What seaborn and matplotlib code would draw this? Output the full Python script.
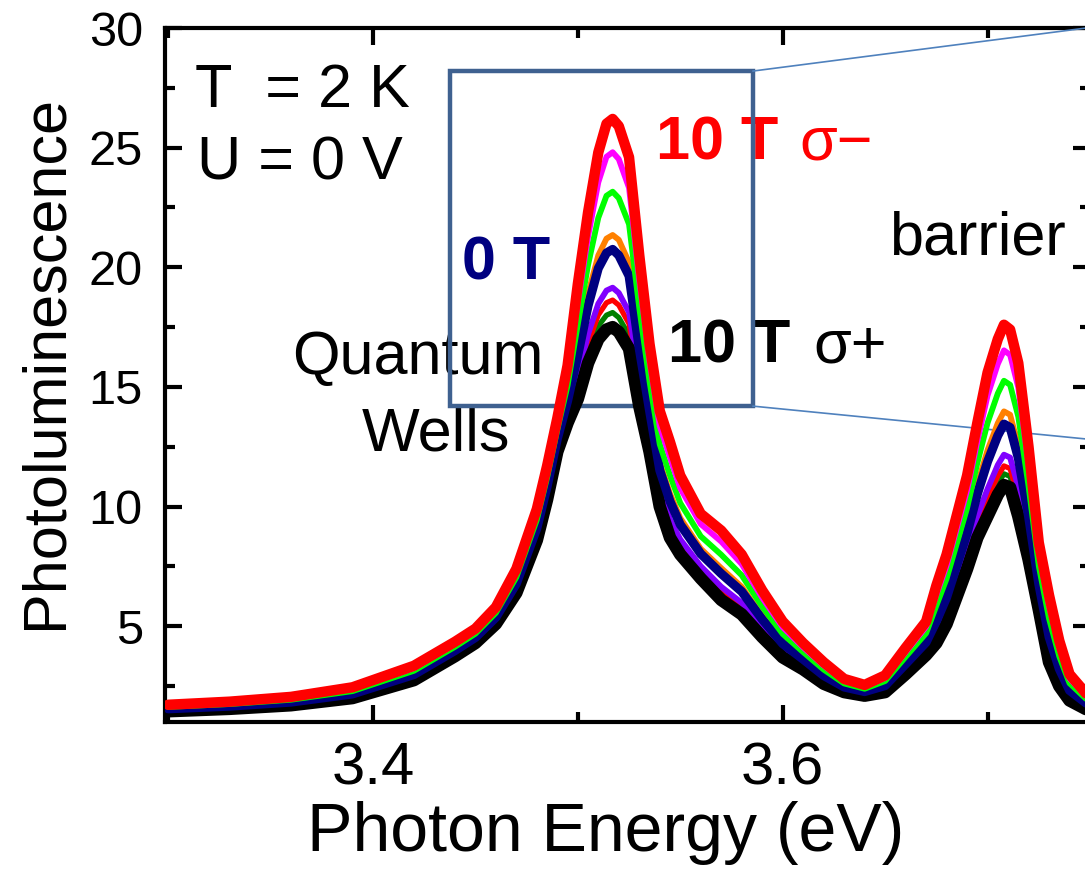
import numpy as np
import pandas as pd
import matplotlib
matplotlib.use("Agg")
import matplotlib.pyplot as plt
from matplotlib.patches import Rectangle
from matplotlib.ticker import MultipleLocator
import seaborn as sns

# photon energy grid (eV)
energy = [3.30, 3.33, 3.36, 3.39, 3.42, 3.44, 3.45, 3.46, 3.47, 3.48,
          3.485, 3.49, 3.495, 3.50, 3.505, 3.51, 3.514, 3.517, 3.52, 3.525,
          3.53, 3.535, 3.54, 3.545, 3.55, 3.56, 3.57, 3.58, 3.59, 3.60,
          3.61, 3.62, 3.63, 3.64, 3.65, 3.66, 3.67, 3.675, 3.68, 3.69,
          3.695, 3.70, 3.705, 3.708, 3.711, 3.715, 3.72, 3.725, 3.73, 3.735,
          3.74, 3.75]

# PL spectra, from 10 T sigma- (top) to 10 T sigma+ (bottom)
pl_red = [1.72, 1.85, 2.05, 2.45, 3.35, 4.35, 4.9, 5.8, 7.4, 9.9,
          11.7, 13.7, 15.9, 19.3, 22.3, 24.8, 26.0, 26.2, 25.9, 24.6,
          20.5, 16.8, 14.0, 12.7, 11.3, 9.7, 9.0, 8.0, 6.5, 5.2,
          4.3, 3.5, 2.8, 2.55, 2.95, 4.1, 5.2, 6.7, 8.0, 11.3,
          13.5, 15.6, 17.0, 17.6, 17.4, 16.0, 12.5, 8.5, 6.3, 4.4,
          3.0, 2.0]
pl_magenta = [1.68, 1.80, 1.99, 2.38, 3.25, 4.25, 4.80, 5.69, 7.24, 9.69,
              11.48, 13.48, 15.52, 18.53, 21.29, 23.55, 24.62, 24.81, 24.52, 23.32,
              19.49, 16.08, 13.36, 12.06, 10.77, 9.27, 8.54, 7.6, 6.19, 4.96,
              4.12, 3.36, 2.71, 2.48, 2.84, 3.92, 4.98, 6.32, 7.54, 10.68,
              12.73, 14.64, 15.96, 16.53, 16.34, 14.98, 11.75, 8.05, 5.85, 4.1,
              2.82, 1.91]
pl_lime = [1.63, 1.75, 1.93, 2.29, 3.14, 4.14, 4.69, 5.56, 7.05, 9.45,
           11.21, 13.21, 15.06, 17.62, 20.1, 22.07, 22.99, 23.16, 22.89, 21.8,
           18.3, 15.23, 12.6, 11.3, 10.15, 8.76, 7.99, 7.13, 5.82, 4.68,
           3.92, 3.19, 2.61, 2.39, 2.71, 3.72, 4.71, 5.86, 6.99, 9.94,
           11.82, 13.5, 14.73, 15.26, 15.09, 13.76, 10.86, 7.52, 5.32, 3.74,
           2.62, 1.81]
pl_orange = [1.57, 1.69, 1.86, 2.21, 3.03, 4.03, 4.58, 5.42, 6.86, 9.2,
             10.94, 12.94, 14.6, 16.71, 18.9, 20.5, 21.2, 21.35, 21.15, 20.2,
             17.1, 14.37, 11.84, 10.54, 9.52, 8.24, 7.43, 6.65, 5.45, 4.39,
             3.71, 3.01, 2.5, 2.31, 2.57, 3.51, 4.44, 5.4, 6.43, 9.19,
             10.91, 12.36, 13.49, 13.98, 13.84, 12.54, 9.96, 6.99, 4.79, 3.37,
             2.41, 1.7]
pl_navy = [1.55, 1.66, 1.83, 2.17, 2.98, 3.98, 4.53, 5.37, 6.78, 9.09,
           10.83, 12.83, 14.41, 16.32, 18.39, 19.96, 20.6, 20.75, 20.5, 19.64,
           16.59, 14.01, 11.52, 10.22, 9.25, 8.03, 7.2, 6.45, 5.29, 4.27,
           3.62, 2.94, 2.46, 2.27, 2.52, 3.42, 4.33, 5.21, 6.2, 8.88,
           10.52, 11.88, 12.97, 13.45, 13.31, 12.03, 9.59, 6.76, 4.56, 3.22,
           2.32, 1.66]
pl_purple = [1.5, 1.61, 1.77, 2.09, 2.86, 3.86, 4.41, 5.23, 6.59, 8.85,
             10.57, 12.57, 13.96, 15.41, 17.2, 18.48, 19.03, 19.15, 18.93, 18.12,
             15.4, 13.16, 10.76, 9.46, 8.63, 7.51, 6.65, 5.98, 4.92, 3.99,
             3.41, 2.77, 2.35, 2.19, 2.38, 3.21, 4.07, 4.76, 5.65, 8.14,
             9.61, 10.74, 11.74, 12.17, 12.05, 10.82, 8.69, 6.23, 4.03, 2.86,
             2.11, 1.55]
pl_red_thin = [1.49, 1.59, 1.75, 2.06, 2.83, 3.83, 4.37, 5.19, 6.53, 8.77,
               10.47, 12.48, 13.79, 15.12, 16.82, 18.01, 18.52, 18.63, 18.42, 17.64,
               15.02, 12.89, 10.52, 9.18, 8.43, 7.35, 6.48, 5.83, 4.8, 3.9,
               3.34, 2.72, 2.32, 2.16, 2.34, 3.14, 3.98, 4.59, 5.48, 7.91,
               9.28, 10.38, 11.28, 11.7, 11.59, 10.37, 8.36, 6.04, 3.84, 2.73,
               2.03, 1.52]
pl_green = [1.47, 1.57, 1.72, 2.03, 2.79, 3.79, 4.34, 5.15, 6.47, 8.69,
            10.4, 12.4, 13.67, 14.84, 16.44, 17.55, 18.0, 18.11, 17.9, 17.16,
            14.64, 12.62, 10.28, 8.98, 8.23, 7.19, 6.3, 5.68, 4.69, 3.81,
            3.28, 2.66, 2.29, 2.13, 2.3, 3.08, 3.9, 4.47, 5.3, 7.67,
            9.04, 10.02, 10.96, 11.37, 11.26, 10.05, 8.13, 5.9, 3.7, 2.63,
            1.98, 1.49]
pl_black = [1.45, 1.55, 1.70, 2.0, 2.75, 3.75, 4.3, 5.1, 6.4, 8.6,
            10.3, 12.3, 13.5, 14.5, 16.0, 17.0, 17.4, 17.5, 17.3, 16.6,
            14.2, 12.3, 10.0, 8.7, 8.0, 7.0, 6.1, 5.5, 4.55, 3.7,
            3.2, 2.6, 2.25, 2.1, 2.25, 3.0, 3.8, 4.3, 5.1, 7.4,
            8.7, 9.6, 10.5, 10.9, 10.8, 9.6, 7.8, 5.7, 3.5, 2.5,
            1.9, 1.45]

sns.set_style("ticks")
plt.rcParams['font.family'] = ['Liberation Sans', 'DejaVu Sans']
plt.rcParams.update({"text.color": "black", "axes.labelcolor": "black",
                     "xtick.color": "black", "ytick.color": "black",
                     "axes.edgecolor": "black"})

fig = plt.figure(figsize=(10.85, 8.77), dpi=100)
ax = fig.add_axes([165/1085, 1-722/877, 925/1085, 694/877])

# thin curves first, thick ones over them, thick red last
curves = [(pl_green, "#008000", 3.8),
          (pl_red_thin, "#ff0000", 3.8),
          (pl_purple, "#8000ff", 4.2),
          (pl_orange, "#ff8000", 4.2),
          (pl_black, "black", 9.0),
          (pl_navy, "#000080", 6.5),
          (pl_lime, "#00ff00", 4.2),
          (pl_magenta, "#ff00ff", 4.2),
          (pl_red, "#ff0000", 7.5)]
for vals, col, lw in curves:
    sns.lineplot(x=energy, y=vals, color=col, linewidth=lw, ax=ax, zorder=5,
                 solid_capstyle="round", solid_joinstyle="round")

ax.set_xlim(3.2985, 3.75)
ax.set_ylim(1.0, 30)
ax.xaxis.set_major_locator(MultipleLocator(0.2))
ax.xaxis.set_minor_locator(MultipleLocator(0.1))
ax.yaxis.set_major_locator(MultipleLocator(5))
ax.yaxis.set_minor_locator(MultipleLocator(2.5))
ax.tick_params(which="both", direction="in", top=True, right=True, width=3)
ax.tick_params(which="major", length=12)
ax.tick_params(which="minor", length=7)
ax.tick_params(axis="x", labelsize=43, pad=14)
ax.tick_params(axis="y", labelsize=35, pad=16)
for s in ax.spines.values():
    s.set_linewidth(3)

ax.set_xlabel("Photon Energy (eV)", fontsize=49)
ax.set_ylabel("Photoluminescence", fontsize=44)
ax.xaxis.set_label_coords(0.476, -0.114)
ax.yaxis.set_label_coords(-0.098, 0.519)

# annotations
ax.text(3.313, 26.7, "T  = 2 K", fontsize=44, zorder=2)
ax.text(3.314, 23.67, "U = 0 V", fontsize=44, zorder=2)
ax.text(3.422, 15.54, "Quantum", fontsize=44, ha="center", zorder=2)
ax.text(3.4307, 12.33, "Wells", fontsize=44, ha="center", zorder=2)
ax.text(3.6517, 20.54, "barrier", fontsize=44, zorder=2)
ax.text(3.538, 24.5, "10 T", fontsize=44, fontweight="bold", color="#ff0000", zorder=2)
ax.text(3.608, 24.5, "σ−", fontsize=44, color="#ff0000", zorder=2)
ax.text(3.4434, 19.5, "0 T", fontsize=44, fontweight="bold", color="#000080", zorder=2)
ax.text(3.5439, 16.04, "10 T", fontsize=44, fontweight="bold", color="black", zorder=2)
ax.text(3.6151, 16.04, "σ+", fontsize=44, color="black", zorder=2)

# zoom box and its connector lines
ax.add_patch(Rectangle((3.4376, 14.2), 3.5854 - 3.4376, 28.2 - 14.2, fill=False,
                       edgecolor="#3f6190", linewidth=3.2, zorder=3))
ax.plot([3.5854, 3.75], [28.2, 30.02], color="#4f81bd", lw=1.2, clip_on=False, zorder=3)
ax.plot([3.5854, 3.75], [14.2, 12.81], color="#4f81bd", lw=1.2, clip_on=False, zorder=3)

fig.savefig("out.png", dpi=100)
